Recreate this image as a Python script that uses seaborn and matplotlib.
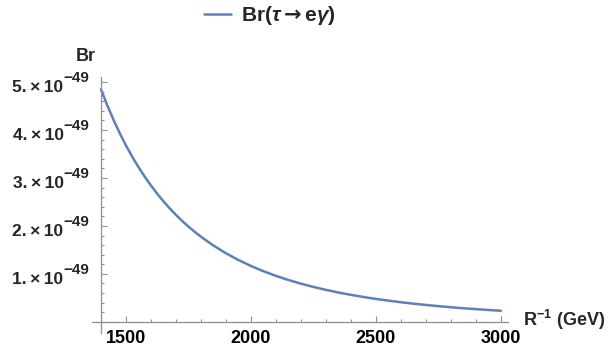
import seaborn as sns
import matplotlib.pyplot as plt
import matplotlib.ticker as mticker
import pandas as pd

# R^-1 in GeV and Br in units of 1e-49
r_inv = [1400, 1425, 1450, 1475, 1500, 1525, 1550, 1575, 1600, 1625, 1650,
         1675, 1700, 1725, 1750, 1775, 1800, 1850, 1900, 1950, 2000, 2050,
         2100, 2150, 2200, 2250, 2300, 2350, 2400, 2450, 2500, 2550, 2600,
         2650, 2700, 2750, 2800, 2850, 2900, 2950, 3000]
br = [4.85, 4.52, 4.215, 3.936, 3.68, 3.445, 3.228, 3.028, 2.843, 2.672, 2.514,
      2.367, 2.23, 2.104, 1.987, 1.877, 1.775, 1.591, 1.43, 1.289, 1.165, 1.055,
      0.958, 0.872, 0.795, 0.727, 0.666, 0.611, 0.562, 0.517, 0.477, 0.441, 0.408,
      0.378, 0.351, 0.326, 0.303, 0.282, 0.264, 0.246, 0.23]
y_ticks = [1, 2, 3, 4, 5]
x_ticks = [1500, 2000, 2500, 3000]

sns.set_style('white')
plt.rcParams['font.family'] = ['Liberation Sans', 'DejaVu Sans']
plt.rcParams['font.weight'] = 'bold'
plt.rcParams['mathtext.fontset'] = 'custom'
plt.rcParams['mathtext.rm'] = 'Liberation Sans:bold'
plt.rcParams['mathtext.bf'] = 'Liberation Sans:bold'
plt.rcParams['mathtext.it'] = 'Liberation Sans:italic:bold'
plt.rcParams['mathtext.sf'] = 'DejaVu Sans:bold'

df = pd.DataFrame({'R': r_inv, 'Br': br})

fig = plt.figure(figsize=(6.09, 3.51), dpi=100)
ax = fig.add_axes([0.151, 0.0513, 0.683, 0.7297])

sns.lineplot(data=df, x='R', y='Br', ax=ax, color='#5E81B5', linewidth=1.8,
             label='Br($\\tau$$\\mathsf{\\rightarrow}$e$\\gamma$)')

ax.set_xlim(1364, 3028)
ax.set_ylim(-0.234, 5.11)
ax.set_xlabel('')
ax.set_ylabel('')

axis_grey = '#8f8f8f'
for s in ['top', 'right']:
    ax.spines[s].set_visible(False)
ax.spines['left'].set_position(('data', 1400))
ax.spines['bottom'].set_position(('data', 0))
for s in ['left', 'bottom']:
    ax.spines[s].set_color(axis_grey)
    ax.spines[s].set_linewidth(0.9)

ax.xaxis.set_major_locator(mticker.FixedLocator(x_ticks))
ax.xaxis.set_minor_locator(mticker.FixedLocator(range(1400, 3001, 100)))
ax.yaxis.set_major_locator(mticker.FixedLocator(y_ticks))
ax.yaxis.set_minor_locator(mticker.FixedLocator([i * 0.2 for i in range(0, 26)]))
ax.set_yticklabels([])

ax.tick_params(which='both', direction='in', color=axis_grey, width=0.8,
               bottom=True, left=True, labelcolor='black')
ax.tick_params(which='major', length=4.3)
ax.tick_params(which='minor', length=2.2)
ax.tick_params(axis='x', pad=6, labelsize=13)

# y tick labels in the "5.×10^-49" form, mantissa and exponent drawn apart
for v in y_ticks:
    ax.annotate(f'{v}.\u2009×\u200910', xy=(1400, v), xycoords='data',
                xytext=(-26.9, -7), textcoords='offset points',
                ha='right', va='baseline', fontsize=12.5, fontweight='bold')
    ax.annotate('\u221249', xy=(1400, v), xycoords='data',
                xytext=(-26.9, 0), textcoords='offset points',
                ha='left', va='baseline', fontsize=11, fontweight='bold')

fig.text(0.1404, 0.839, 'Br', ha='center', va='center', fontsize=13,
         fontweight='bold')
fig.text(0.859, 0.088, 'R$^{-1}$ (GeV)', ha='left', va='center', fontsize=13,
         fontweight='bold')

ax.legend(loc='center', bbox_to_anchor=(0.443, 0.955),
          bbox_transform=fig.transFigure, frameon=False, fontsize=15,
          handlelength=1.3, handletextpad=0.5)

fig.savefig('out.png', dpi=100)
